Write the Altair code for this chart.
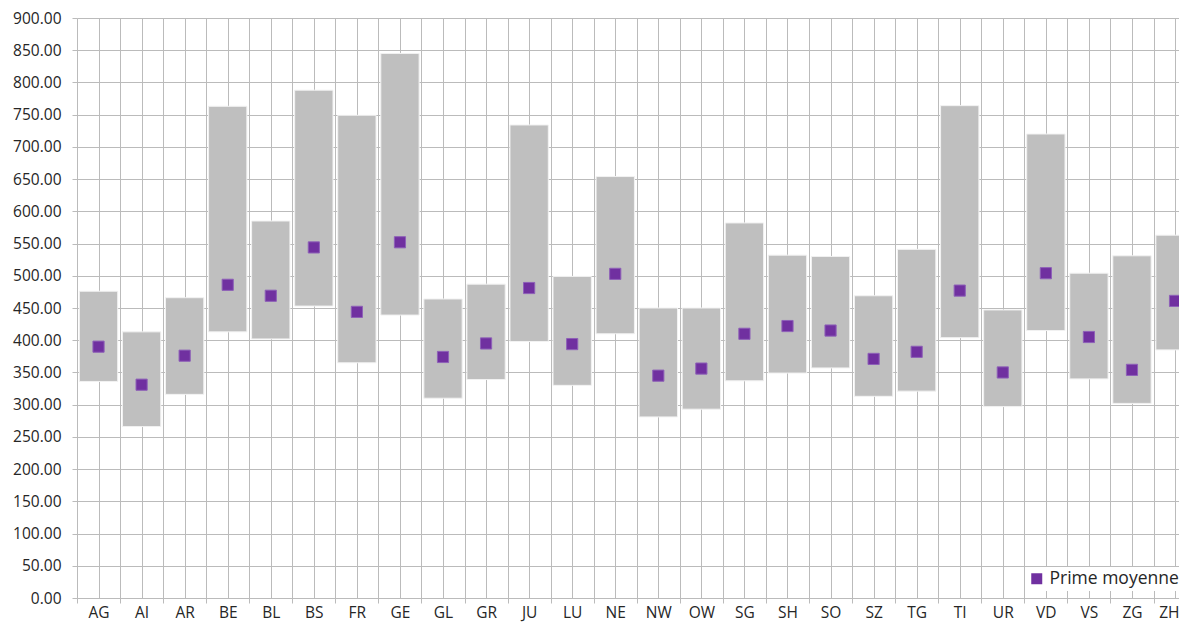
import altair as alt
import pandas as pd

cantons = ["AG", "AI", "AR", "BE", "BL", "BS", "FR", "GE", "GL", "GR", "JU", "LU", "NE",
           "NW", "OW", "SG", "SH", "SO", "SZ", "TG", "TI", "UR", "VD", "VS", "ZG", "ZH"]
prime_min = [336, 266, 316, 413, 402, 453, 365, 439, 310, 339, 398, 330, 410,
             281, 293, 337, 349, 357, 313, 321, 404, 297, 415, 340, 302, 385]
prime_max = [476, 413, 466, 763, 585, 788, 749, 845, 464, 487, 734, 499, 654,
             450, 450, 582, 532, 530, 469, 541, 764, 447, 720, 504, 531, 563]
prime_moy = [390, 331, 376, 486, 469, 544, 444, 552, 374, 395, 481, 394, 503,
             345, 356, 410, 422, 415, 371, 382, 477, 350, 504, 405, 354, 461]
series_name = "Prime moyenne"
y_ticks = list(range(0, 901, 50))

n = len(cantons)
df = pd.DataFrame({
    "canton": cantons,
    "idx": list(range(n)),
    "lo": prime_min,
    "hi": prime_max,
    "mean": prime_moy,
    "series": [series_name] * n,
})
df["x0"] = df["idx"] + 0.055
df["x1"] = df["idx"] + 0.945
df["xc"] = df["idx"] + 0.5

GRID = "#BBBBBB"
PLOT_W = 1102
PLOT_H = 580
BAND = 43.06
xscale = alt.Scale(domain=[0, PLOT_W / BAND], nice=False, zero=False)
yscale = alt.Scale(domain=[0, 900], nice=False, zero=True)

label_expr = "[" + ",".join("'%s'" % c for c in cantons) + "][floor(datum.value)]"


def y_axis():
    return alt.Axis(values=y_ticks, format=".2f", title=None, grid=True,
                    tickSize=5, domain=False, labelPadding=11,
                    labelOverlap=False, gridColor=GRID, tickColor=GRID)


bars = alt.Chart(df).mark_bar(
    color="#BFBFBF", stroke="#F2F2F2", strokeWidth=1, clip=True
).encode(
    x=alt.X("x0:Q", scale=xscale,
            axis=alt.Axis(values=list(range(n)), grid=True, labels=False, ticks=True,
                          tickSize=5, domain=False, title=None, orient="bottom",
                          gridColor=GRID, tickColor=GRID)),
    x2="x1:Q",
    y=alt.Y("lo:Q", scale=yscale, axis=y_axis()),
    y2="hi:Q",
)

points = alt.Chart(df).mark_point(
    shape="square", filled=True, size=125, opacity=1,
    stroke="#8E60B8", strokeWidth=1
).encode(
    x=alt.X("xc:Q", scale=xscale,
            axis=alt.Axis(values=[i + 0.5 for i in range(n)], grid=True, ticks=False,
                          domain=False, title=None, orient="bottom",
                          labelExpr=label_expr, labelPadding=7, labelOverlap=False,
                          labelAlign={"condition": {"test": "datum.value > 25", "value": "right"},
                                      "value": "center"},
                          labelOffset={"condition": {"test": "datum.value > 25", "value": 4},
                                       "value": 0},
                          gridColor=GRID)),
    y=alt.Y("mean:Q", scale=yscale, axis=y_axis()),
    color=alt.Color("series:N",
                    scale=alt.Scale(domain=[series_name], range=["#7030A0"]),
                    legend=alt.Legend(title=None, orient="none", legendX=948, legendY=549,
                                      symbolType="square", symbolSize=121,
                                      labelFontSize=17.5, labelFont="Open Sans",
                                      labelColor="#262626", fillColor="white",
                                      padding=3, symbolStrokeWidth=0)),
)

chart = alt.layer(bars, points).resolve_axis(x="independent").properties(
    width=PLOT_W, height=PLOT_H,
    autosize=alt.AutoSizeParams(type="none"),
    padding={"left": 69, "top": 10, "right": 0, "bottom": 26},
).configure_view(stroke=None).configure_axis(
    labelFont="Open Sans", labelFontSize=15.5, labelColor="#262626"
)

chart.save("out.html", embed_options={"renderer": "svg", "actions": False})
